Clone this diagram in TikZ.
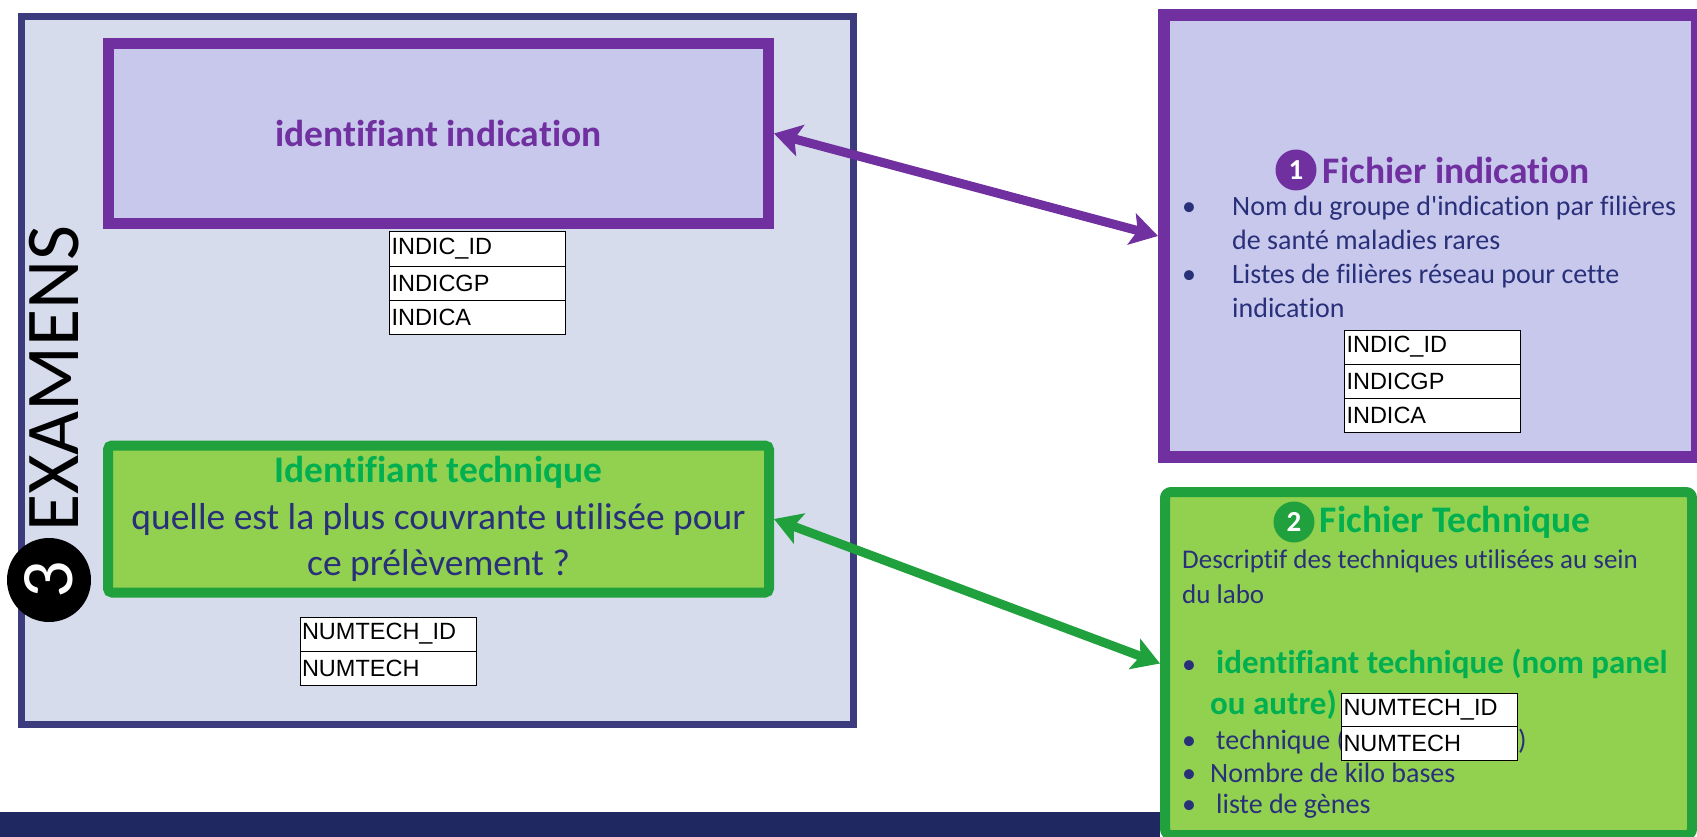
\documentclass[tikz,border=0pt]{standalone}
\usepackage{fontspec}
\setmainfont{Carlito}[Ligatures={TeX,NoCommon}]
\newfontfamily\tablefont{Liberation Sans}
\usetikzlibrary{arrows.meta,positioning}
\definecolor{frame}{HTML}{3B3B7E}
\definecolor{pale}{HTML}{D6DCEC}
\definecolor{purp}{HTML}{7030A0}
\definecolor{lilac}{HTML}{C8C8EC}
\definecolor{grn}{HTML}{21A13D}
\definecolor{lime}{HTML}{92D050}
\definecolor{grntext}{HTML}{00B050}
\definecolor{navy}{HTML}{29307A}
\definecolor{band}{HTML}{1F2861}
\tikzset{
  outerbox/.style={draw=frame, line width=7pt, fill=pale},
  indicbox/.style={draw=purp, line width=11pt, fill=lilac},
  techbox/.style={draw=grn, line width=10pt, fill=lime, rounded corners=4pt},
  cell/.style={draw=black, line width=1pt, fill=white, text width=172pt, inner xsep=2pt,
    inner ysep=0pt, minimum height=34pt, align=left, outer sep=0pt,
    font=\tablefont\fontsize{23.5}{25}\selectfont},
  num/.style={circle, inner sep=0pt, minimum size=41pt, text=white, font=\bfseries\fontsize{29}{29}\selectfont},
  title/.style={font=\bfseries\fontsize{37.5}{40}\selectfont, inner sep=0pt},
  body/.style={text=navy, inner sep=0pt, anchor=base west, font=\fontsize{28}{34}\selectfont},
  strong/.style={body, text=grntext, font=\bfseries\fontsize{33}{36}\selectfont},
  link/.style={line width=9pt, {Stealth[length=27pt,width=32pt,inset=6pt]}-{Stealth[length=27pt,width=32pt,inset=6pt]}}
}
\newcommand\bul{\makebox[28pt][l]{\fontsize{28}{28}\mdseries\color{navy}\textbullet}}

\begin{document}
\begin{tikzpicture}[x=1pt,y=-1pt]
  \useasboundingbox (0,0) rectangle (1697,837);
  \fill[band] (0,812) rectangle (1160,837);

  % examens
  \node[outerbox, minimum width=832pt, minimum height=708pt] (examens) at (437.5,370.5) {};
  \node[indicbox, minimum width=660pt, minimum height=180pt,
    text=purp, font=\bfseries\fontsize{37.5}{40}\selectfont] (indic) at (438.5,133.5) {identifiant indication};
  \node[techbox, minimum width=661pt, minimum height=147pt, align=center,
    text=navy, font=\fontsize{37.5}{46.5}\selectfont] (tech) at (438.5,519)
    {{\color{grntext}\bfseries Identifiant technique}\\quelle est la plus couvrante utilisée pour\\ce prélèvement ?};
  \node[rotate=90, font=\fontsize{76}{76}\selectfont, inner sep=0pt] (examlab) at (54,378.5) {EXAMENS};
  \node[circle, fill=black, minimum size=84pt, inner sep=0pt, text=white, rotate=90,
    font=\fontsize{74}{74}\selectfont] (num3) at (49,580) {3};

  \node[cell] (li1) at (477.5,249) {INDIC\_ID};
  \node[cell, below=0pt of li1] (li2) {INDICGP};
  \node[cell, below=0pt of li2] (li3) {INDICA};
  \node[cell] (ln1) at (388,634) {NUMTECH\_ID};
  \node[cell, below=0pt of ln1] (ln2) {NUMTECH};

  % fichier indication
  \node[indicbox, line width=12pt, minimum width=533pt, minimum height=442pt] (fichind) at (1430.5,236) {};
  \node[num, fill=purp] (num1) at (1296,170) {1};
  \node[title, text=purp, right=6pt of num1] (titind) {Fichier indication};
  \node[body] (listind) at (1182,215)
    {\begin{tabular}[t]{@{}p{50pt}@{}l@{}}
      \textbullet & Nom du groupe d\textquotesingle indication par filières\\
                  & de santé maladies rares\\
      \textbullet & Listes de filières réseau pour cette\\
                  & indication
    \end{tabular}};
  \node[cell] (ri1) at (1432.5,347) {INDIC\_ID};
  \node[cell, below=0pt of ri1] (ri2) {INDICGP};
  \node[cell, below=0pt of ri2] (ri3) {INDICA};

  % fichier technique
  \node[techbox, rounded corners=6pt, minimum width=527pt, minimum height=343pt] (fichtech) at (1428.5,663.5) {};
  \node[num, fill=grn] (num2) at (1294,522) {2};
  \node[title, text=grntext, right=5pt of num2] (tittech) {Fichier Technique};
  \node[body, font=\fontsize{27}{35}\selectfont] (desc) at (1182,568)
    {\begin{tabular}[t]{@{}l@{}}
      Descriptif des techniques utilisées au sein\\
      du labo
    \end{tabular}};
  \node[strong] (item1) at (1182,673) {\bul\hspace{6pt}identifiant technique (nom panel};
  \node[strong] (item1b) at (1210,714) {ou autre)};
  \node[body] (item2) at (1182,749) {\bul\hspace{6pt}technique (\hspace{173pt})};
  \node[body] (item3) at (1182,782) {\bul Nombre de kilo bases};
  \node[body] (item4) at (1182,813) {\bul\hspace{6pt}liste de gènes};
  \node[cell, minimum height=33.5pt] (rn1) at (1429.5,710) {NUMTECH\_ID};
  \node[cell, minimum height=33.5pt, below=0pt of rn1] (rn2) {NUMTECH};

  \draw[link, draw=purp, fill=purp] (indic.east) -- (fichind.west);
  \draw[link, draw=grn, fill=grn] (tech.east) -- (fichtech.west);
\end{tikzpicture}
\end{document}
